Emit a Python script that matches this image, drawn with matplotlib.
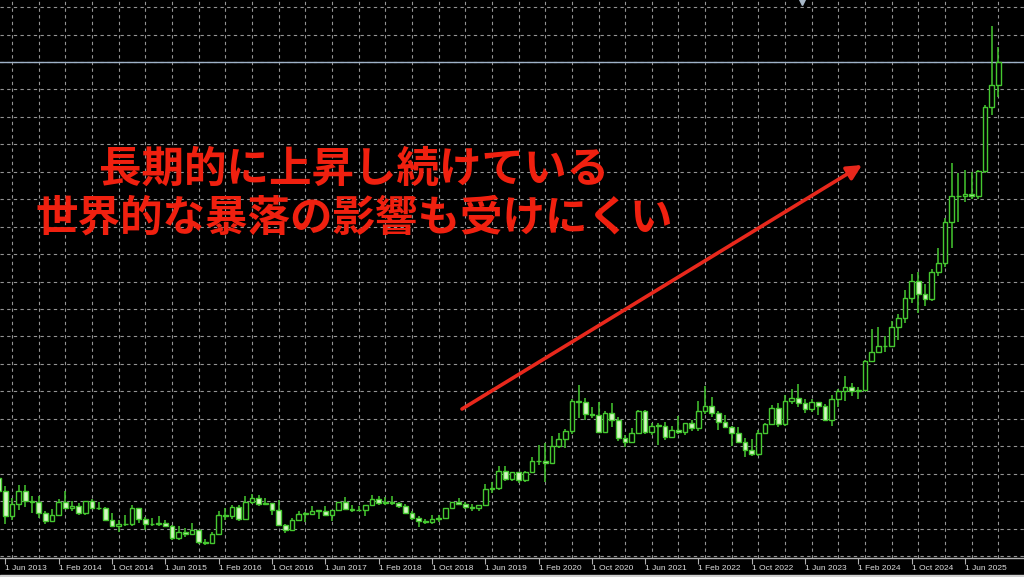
"""
Gold monthly candles (MT4 style) with a Japanese comment and trend arrow
"""
import matplotlib
matplotlib.use("Agg")
import matplotlib.pyplot as plt
from matplotlib.patches import Rectangle
import numpy as np
import pandas as pd

# monthly OHLC, first bar = May 2013
start_month = "2013-05-01"
opens = [1476, 1393, 1234, 1313, 1396, 1327, 1323, 1250,
         1202, 1240, 1326, 1284, 1296, 1250, 1327, 1282, 1287, 1208, 1171, 1182,
         1184, 1283, 1213, 1183, 1183, 1190, 1172, 1095, 1134, 1115, 1142, 1065,
         1061, 1118, 1238, 1233, 1293, 1215, 1322, 1351, 1309, 1316, 1273, 1173,
         1146, 1211, 1249, 1249, 1268, 1268, 1242, 1269, 1321, 1280, 1271, 1275,
         1303, 1345, 1318, 1325, 1315, 1299, 1253, 1224, 1201, 1192, 1215, 1222,
         1282, 1321, 1313, 1292, 1284, 1305, 1409, 1413, 1520, 1472, 1513, 1464,
         1517, 1589, 1585, 1577, 1686, 1730, 1781, 1975, 1967, 1886, 1879, 1776,
         1898, 1847, 1734, 1708, 1769, 1906, 1770, 1814, 1813, 1743, 1783, 1774,
         1829, 1797, 1909, 1937, 1897, 1837, 1807, 1765, 1711, 1660, 1633, 1768,
         1824, 1928, 1827, 1969, 1990, 1962, 1919, 1965, 1940, 1849, 1983, 2036,
         2063, 2039, 2044, 2230, 2286, 2327, 2326, 2447, 2503, 2635, 2744, 2657,
         2625, 2798, 2858, 3124, 3289, 3289, 3303, 3290, 3448, 3858, 4003]
highs = [1487, 1424, 1348, 1434, 1434, 1361, 1361, 1267,
         1280, 1345, 1392, 1331, 1315, 1332, 1345, 1322, 1291, 1256, 1205, 1239,
         1307, 1285, 1225, 1224, 1232, 1205, 1175, 1170, 1157, 1191, 1142, 1088,
         1128, 1263, 1283, 1304, 1304, 1362, 1375, 1367, 1352, 1317, 1338, 1180,
         1220, 1264, 1261, 1295, 1270, 1296, 1270, 1326, 1357, 1306, 1299, 1307,
         1366, 1362, 1356, 1365, 1326, 1309, 1266, 1236, 1214, 1243, 1237, 1284,
         1326, 1347, 1324, 1310, 1306, 1439, 1453, 1555, 1557, 1517, 1516, 1525,
         1611, 1689, 1704, 1748, 1765, 1789, 1984, 2075, 1992, 1933, 1966, 1906,
         1959, 1872, 1756, 1798, 1913, 1916, 1832, 1832, 1834, 1814, 1877, 1831,
         1853, 1974, 2070, 1998, 1910, 1879, 1814, 1808, 1735, 1730, 1786, 1833,
         1949, 1960, 2009, 2048, 2079, 1983, 1987, 1968, 1953, 2009, 2052, 2135,
         2088, 2065, 2236, 2431, 2450, 2387, 2483, 2531, 2685, 2790, 2801, 2726,
         2817, 2956, 3148, 3500, 3435, 3452, 3439, 3453, 3871, 4381, 4245]
lows = [1338, 1180, 1208, 1271, 1292, 1251, 1221, 1181,
        1202, 1238, 1283, 1268, 1240, 1241, 1281, 1273, 1206, 1160, 1131, 1170,
        1167, 1191, 1142, 1170, 1170, 1162, 1077, 1080, 1098, 1113, 1052, 1046,
        1062, 1110, 1208, 1212, 1200, 1208, 1310, 1301, 1302, 1242, 1171, 1123,
        1146, 1200, 1195, 1240, 1214, 1236, 1204, 1264, 1271, 1261, 1264, 1236,
        1303, 1307, 1303, 1302, 1282, 1245, 1211, 1160, 1180, 1183, 1196, 1221,
        1276, 1310, 1281, 1266, 1266, 1301, 1381, 1400, 1459, 1459, 1445, 1454,
        1517, 1563, 1451, 1567, 1670, 1671, 1757, 1863, 1849, 1860, 1764, 1776,
        1802, 1717, 1677, 1705, 1766, 1761, 1751, 1688, 1722, 1746, 1758, 1753,
        1780, 1780, 1890, 1872, 1787, 1805, 1681, 1709, 1615, 1618, 1616, 1765,
        1823, 1805, 1810, 1950, 1932, 1893, 1903, 1885, 1846, 1810, 1931, 1973,
        2002, 1984, 2039, 2228, 2277, 2286, 2319, 2364, 2471, 2604, 2536, 2583,
        2614, 2773, 2833, 2957, 3121, 3247, 3268, 3268, 3436, 3808, 3924]
closes = [1393, 1234, 1313, 1396, 1327, 1323, 1250, 1202,
          1240, 1326, 1284, 1296, 1250, 1327, 1282, 1287, 1208, 1171, 1182, 1184,
          1283, 1213, 1183, 1183, 1190, 1172, 1095, 1134, 1115, 1142, 1065, 1061,
          1118, 1238, 1233, 1293, 1215, 1322, 1351, 1309, 1316, 1273, 1173, 1146,
          1211, 1249, 1249, 1268, 1268, 1242, 1269, 1321, 1280, 1271, 1275, 1303,
          1345, 1318, 1325, 1315, 1299, 1253, 1224, 1201, 1192, 1215, 1222, 1282,
          1321, 1313, 1292, 1284, 1305, 1409, 1413, 1520, 1472, 1513, 1464, 1517,
          1589, 1585, 1577, 1686, 1730, 1781, 1975, 1967, 1886, 1879, 1776, 1898,
          1847, 1734, 1708, 1769, 1906, 1770, 1814, 1813, 1743, 1783, 1774, 1829,
          1797, 1909, 1937, 1897, 1837, 1807, 1765, 1711, 1660, 1633, 1768, 1824,
          1928, 1827, 1969, 1990, 1962, 1919, 1965, 1940, 1849, 1983, 2036, 2063,
          2039, 2044, 2230, 2286, 2327, 2326, 2447, 2503, 2635, 2744, 2657, 2625,
          2798, 2858, 3124, 3289, 3289, 3303, 3290, 3448, 3858, 4003, 4148]

comment_lines = ["長期的に上昇し続けている", "世界的な暴落の影響も受けにくい"]

months = pd.date_range(start_month, periods=len(closes), freq="MS")
x = np.arange(len(closes))

BG = "#000000"
CANDLE = "#45c830"
BEAR_FILL = "#d6f7c4"
GRID = "#939393"
TXT_RED = "#f0200f"

plt.rcParams["font.family"] = ["Noto Sans CJK JP", "DejaVu Sans"]

fig = plt.figure(figsize=(10.24, 5.77), dpi=100, facecolor=BG)
ax = fig.add_axes([0, 19 / 577, 1, 558 / 577], facecolor=BG)

# grid: vertical every 4 months, horizontal fixed price step (MT4 like)
for gx in np.arange(-3, len(closes) + 4, 4):
    ax.axvline(gx + 1, color=GRID, lw=0.8, ls=(0, (3, 3)), zorder=0)
for gy in np.arange(4501, 900, -176.2):
    ax.axhline(gy, color=GRID, lw=0.8, ls=(0, (3, 3)), zorder=0)

# candles
w = 0.7
for i in range(len(closes)):
    o, h, l, c = opens[i], highs[i], lows[i], closes[i]
    ax.vlines(x[i], l, h, color=CANDLE, lw=1.1, zorder=2)
    bull = c >= o
    body_lo, body_hi = min(o, c), max(o, c)
    hgt = max(body_hi - body_lo, 2)
    ax.add_patch(Rectangle((x[i] - w / 2, body_lo), w, hgt,
                           facecolor=BG if bull else BEAR_FILL,
                           edgecolor=CANDLE, lw=1.0, zorder=3))

# current price line
ax.axhline(closes[-1], color="#9fb2c8", lw=1.0, zorder=1)
ax.plot([120.5], [4535], marker="v", ms=5, color="#a8b8c8", zorder=4, clip_on=False)

# trend arrow + comment
ax.annotate("", xy=(862 / 1024, 1 - 165 / 558), xytext=(462 / 1024, 1 - 409 / 558),
            xycoords="axes fraction", textcoords="axes fraction",
            arrowprops=dict(arrowstyle="-|>", color="#e8281c", lw=2.6,
                            mutation_scale=22, shrinkA=0, shrinkB=0), zorder=5)
ax.text(0.3457, 1 - 169 / 558, comment_lines[0], transform=ax.transAxes,
        ha="center", va="center", fontsize=30.6, fontweight="bold", color=TXT_RED, zorder=6)
ax.text(0.3457, 1 - 218 / 558, comment_lines[1], transform=ax.transAxes,
        ha="center", va="center", fontsize=30.6, fontweight="bold", color=TXT_RED, zorder=6)

# axes
ax.set_xlim(0.2, 1 + 1019 / 6.667)
ax.set_ylim(964, 964 + 558 * 6.42)
tick_pos = x[1::8]
tick_lab = [f"1 {m.strftime('%b %Y')}" for m in months[1::8]]
ax.set_xticks(tick_pos)
ax.set_xticklabels(tick_lab, fontsize=6, color="#dcdcdc", ha="left",
                   family=["Liberation Sans", "DejaVu Sans"])
ax.tick_params(axis="x", direction="out", length=4, width=0.8, color="#b0b0b0", pad=1)
ax.set_yticks([])
for s in ["top", "left", "right"]:
    ax.spines[s].set_visible(False)
ax.spines["bottom"].set_color("#b0b0b0")
ax.spines["bottom"].set_linewidth(1.0)

fig.add_artist(Rectangle((0, 0), 1, 2 / 577, transform=fig.transFigure,
                         color="#cfcfcf", zorder=10))

fig.savefig("out.png", dpi=100, facecolor=BG)
